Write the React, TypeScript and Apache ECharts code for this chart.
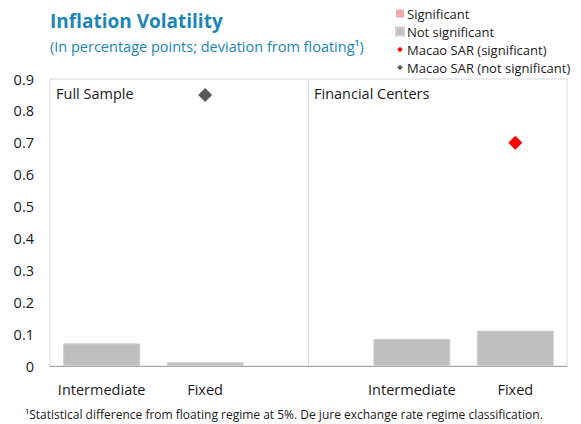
import React, { useEffect, useRef } from "react";
import * as echarts from "echarts";

const categories = ["Intermediate", "Fixed", "", "Intermediate", "Fixed"];
const significantBars: (number | null)[] = [null, null, null, null, null];
const notSignificantBars: (number | null)[] = [0.071, 0.012, null, 0.085, 0.111];
const macaoSignificant: (number | null)[] = [null, null, null, null, 0.70];
const macaoNotSignificant: (number | null)[] = [null, 0.85, null, null, null];
const panelLabels = ["Full Sample", "Financial Centers"];
const dividerIndex = 2;

const FONT = "'Open Sans', 'Noto Sans', sans-serif";
const SMALL_DIAMOND = "path://M0,0M10,10M5,1.5L8.5,5L5,8.5L1.5,5Z";

export default function App() {
  const ref = useRef<HTMLDivElement>(null);
  useEffect(() => {
    if (!ref.current) return;
    const chart = echarts.init(ref.current, undefined, { renderer: "svg" });
    chart.setOption({
      animation: false,
      backgroundColor: "#ffffff",
      textStyle: { fontFamily: FONT },
      title: [
        {
          text: "Inflation Volatility",
          left: 45,
          top: 6,
          textStyle: { fontFamily: FONT, fontSize: 19, fontWeight: "bold", color: "#1a86b6" },
        },
        {
          text: "(In percentage points; deviation from floating¹)",
          left: 45,
          top: 34,
          textStyle: { fontFamily: FONT, fontSize: 14.5, fontWeight: "normal", color: "#1a86b6" },
        },
        {
          text: "¹Statistical difference from floating regime at 5%. De jure exchange rate regime classification.",
          left: 20,
          top: 403,
          textStyle: { fontFamily: FONT, fontSize: 12, fontWeight: "normal", color: "#1a1a1a" },
        },
      ],
      legend: {
        orient: "vertical",
        left: 390,
        top: 2,
        itemWidth: 8,
        itemHeight: 8,
        itemGap: 5,
        textStyle: { fontFamily: FONT, fontSize: 13, color: "#1a1a1a", padding: [0, 0, 0, -2] },
        data: [
          { name: "Significant", icon: "rect" },
          { name: "Not significant", icon: "rect" },
          { name: "Macao SAR (significant)", icon: SMALL_DIAMOND },
          { name: "Macao SAR (not significant)", icon: SMALL_DIAMOND },
        ],
      },
      grid: {
        left: 50,
        right: 14,
        top: 79,
        bottom: 58,
        show: true,
        borderColor: "#d9d9d9",
        borderWidth: 1,
      },
      xAxis: {
        type: "category",
        data: categories,
        boundaryGap: true,
        axisTick: { show: false },
        axisLine: { show: true, lineStyle: { color: "#a6a6a6", width: 1 } },
        axisLabel: { fontFamily: FONT, fontSize: 14.5, color: "#1a1a1a", margin: 16, interval: 0 },
        splitLine: { show: false },
      },
      yAxis: {
        type: "value",
        min: 0,
        max: 0.9,
        interval: 0.1,
        axisLine: { show: false },
        axisTick: { show: false },
        splitLine: { show: false },
        axisLabel: {
          fontFamily: FONT,
          fontSize: 14.5,
          color: "#1a1a1a",
          margin: 16,
          formatter: (v: number) => (v === 0 ? "0" : v.toFixed(1)),
        },
      },
      graphic: [
        {
          type: "text",
          left: 56,
          top: 86,
          style: { text: panelLabels[0], fontFamily: FONT, fontSize: 14.5, fill: "#1a1a1a" },
        },
        {
          type: "text",
          left: 314,
          top: 86,
          style: { text: panelLabels[1], fontFamily: FONT, fontSize: 14.5, fill: "#1a1a1a" },
        },
      ],
      series: [
        {
          name: "Significant",
          type: "bar",
          data: significantBars,
          barWidth: 77,
          barGap: "-100%",
          itemStyle: { color: "#f4a7a7" },
        },
        {
          name: "Not significant",
          type: "bar",
          data: notSignificantBars,
          barWidth: 77,
          barGap: "-100%",
          itemStyle: { color: "#bfbfbf", borderColor: "#d0d0d0", borderWidth: 1 },
          markLine: {
            silent: true,
            symbol: "none",
            label: { show: false },
            lineStyle: { color: "#d9d9d9", type: "solid", width: 1 },
            data: [{ xAxis: dividerIndex }],
          },
        },
        {
          name: "Macao SAR (significant)",
          type: "scatter",
          data: macaoSignificant,
          symbol: "diamond",
          symbolSize: 14,
          itemStyle: { color: "#ff0000", opacity: 1 },
        },
        {
          name: "Macao SAR (not significant)",
          type: "scatter",
          data: macaoNotSignificant,
          symbol: "diamond",
          symbolSize: 14,
          itemStyle: { color: "#595959", opacity: 1 },
        },
      ],
    });
    return () => chart.dispose();
  }, []);
  return (
    <div
      ref={ref}
      style={{ position: "fixed", left: 0, top: 0, width: 581, height: 424 }}
    />
  );
}
